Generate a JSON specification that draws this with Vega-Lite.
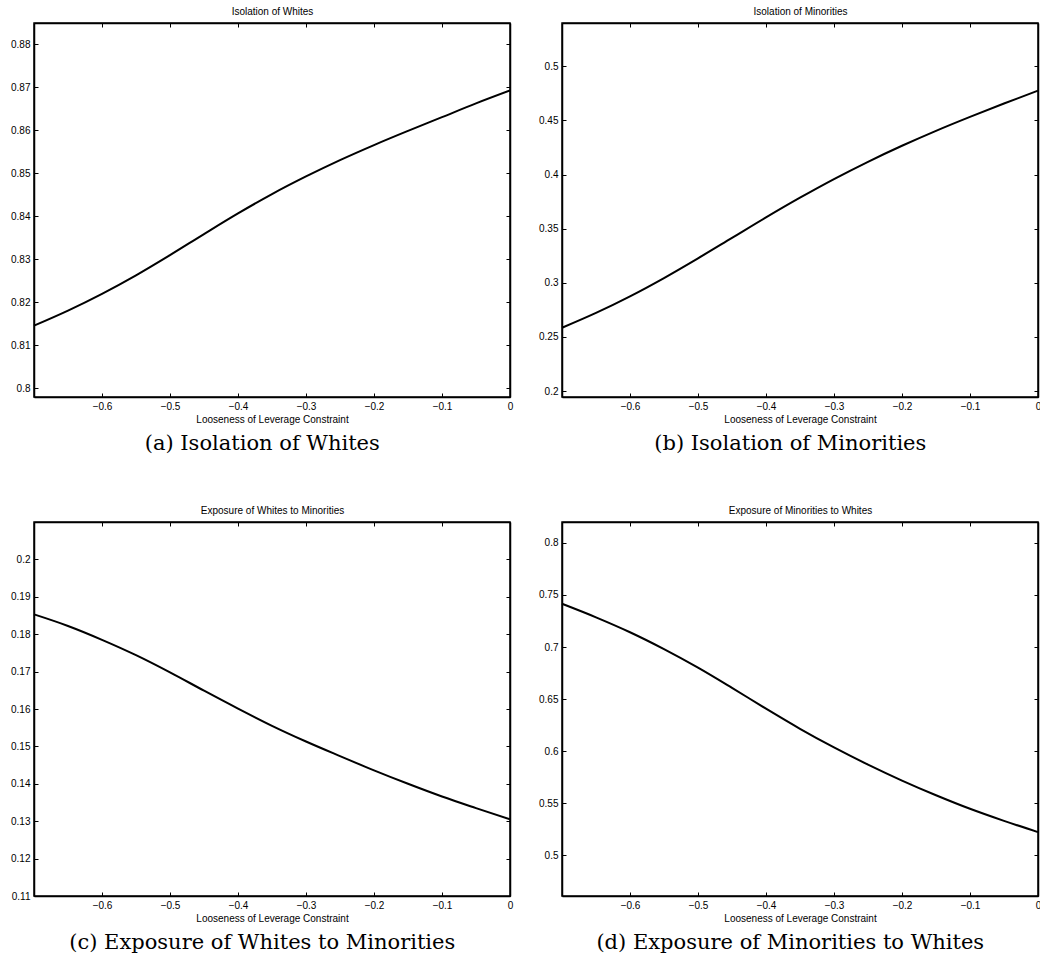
{
  "$schema": "https://vega.github.io/schema/vega-lite/v6.json",
  "padding": {"left": 9, "top": 5, "right": 0, "bottom": 0},
  "background": "white",
  "datasets": {
    "a": [
      {"x": -0.7, "y": 0.8146}, {"x": -0.65, "y": 0.8181}, {"x": -0.6, "y": 0.822}, {"x": -0.55, "y": 0.8263},
      {"x": -0.5, "y": 0.831}, {"x": -0.45, "y": 0.8359}, {"x": -0.4, "y": 0.8407}, {"x": -0.35, "y": 0.8452},
      {"x": -0.3, "y": 0.8493}, {"x": -0.25, "y": 0.8531}, {"x": -0.2, "y": 0.8566}, {"x": -0.15, "y": 0.8599},
      {"x": -0.1, "y": 0.8631}, {"x": -0.05, "y": 0.8663}, {"x": 0, "y": 0.8693}
    ],
    "b": [
      {"x": -0.7, "y": 0.2585}, {"x": -0.65, "y": 0.2722}, {"x": -0.6, "y": 0.2875}, {"x": -0.55, "y": 0.3044},
      {"x": -0.5, "y": 0.3226}, {"x": -0.45, "y": 0.3415}, {"x": -0.4, "y": 0.3604}, {"x": -0.35, "y": 0.3786},
      {"x": -0.3, "y": 0.3958}, {"x": -0.25, "y": 0.4118}, {"x": -0.2, "y": 0.4266}, {"x": -0.15, "y": 0.4404},
      {"x": -0.1, "y": 0.4533}, {"x": -0.05, "y": 0.4656}, {"x": 0, "y": 0.4775}
    ],
    "c": [
      {"x": -0.7, "y": 0.1853}, {"x": -0.65, "y": 0.1822}, {"x": -0.6, "y": 0.1785}, {"x": -0.55, "y": 0.1744},
      {"x": -0.5, "y": 0.1698}, {"x": -0.45, "y": 0.1649}, {"x": -0.4, "y": 0.1601}, {"x": -0.35, "y": 0.1555},
      {"x": -0.3, "y": 0.1513}, {"x": -0.25, "y": 0.1474}, {"x": -0.2, "y": 0.1436}, {"x": -0.15, "y": 0.14},
      {"x": -0.1, "y": 0.1366}, {"x": -0.05, "y": 0.1335}, {"x": 0, "y": 0.1305}
    ],
    "d": [
      {"x": -0.7, "y": 0.7415}, {"x": -0.65, "y": 0.7285}, {"x": -0.6, "y": 0.7142}, {"x": -0.55, "y": 0.698},
      {"x": -0.5, "y": 0.6802}, {"x": -0.45, "y": 0.6608}, {"x": -0.4, "y": 0.6408}, {"x": -0.35, "y": 0.6215},
      {"x": -0.3, "y": 0.6036}, {"x": -0.25, "y": 0.5871}, {"x": -0.2, "y": 0.5718}, {"x": -0.15, "y": 0.5577},
      {"x": -0.1, "y": 0.5447}, {"x": -0.05, "y": 0.5331}, {"x": 0, "y": 0.5223}
    ]
  },
  "vconcat": [
    {
      "hconcat": [
        {
          "width": 476, "height": 374,
          "data": {"name": "a"},
          "title": {"text": "(a) Isolation of Whites", "orient": "bottom", "frame": "bounds", "anchor": "middle", "offset": 9},
          "layer": [
            {
              "mark": {"type": "line", "color": "black", "strokeWidth": 2, "interpolate": "monotone"},
              "encoding": {
                "x": {"field": "x", "type": "quantitative", "scale": {"domain": [-0.7, 0], "nice": false, "zero": false},
                      "axis": {"orient": "bottom", "title": "Looseness of Leverage Constraint", "values": [-0.6, -0.5, -0.4, -0.3, -0.2, -0.1, 0], "format": ".1~f", "titlePadding": 3}},
                "y": {"field": "y", "type": "quantitative", "scale": {"domain": [0.798, 0.885], "nice": false, "zero": false},
                      "axis": {"orient": "left", "title": null, "values": [0.8, 0.81, 0.82, 0.83, 0.84, 0.85, 0.86, 0.87, 0.88], "format": ".2~f"}}
              }
            },
            {
              "mark": {"type": "line", "strokeOpacity": 0},
              "encoding": {
                "x": {"field": "x", "type": "quantitative", "scale": {"domain": [-0.7, 0], "nice": false, "zero": false},
                      "axis": {"orient": "top", "title": "Isolation of Whites", "labels": false, "values": [-0.6, -0.5, -0.4, -0.3, -0.2, -0.1, 0], "titlePadding": 6}},
                "y": {"field": "y", "type": "quantitative", "scale": {"domain": [0.798, 0.885], "nice": false, "zero": false},
                      "axis": {"orient": "right", "title": null, "labels": false, "values": [0.8, 0.81, 0.82, 0.83, 0.84, 0.85, 0.86, 0.87, 0.88]}}
              }
            }
          ],
          "resolve": {"axis": {"x": "independent", "y": "independent"}}
        },
        {
          "width": 476, "height": 374,
          "data": {"name": "b"},
          "title": {"text": "(b) Isolation of Minorities", "orient": "bottom", "frame": "bounds", "anchor": "middle", "offset": 9},
          "layer": [
            {
              "mark": {"type": "line", "color": "black", "strokeWidth": 2, "interpolate": "monotone"},
              "encoding": {
                "x": {"field": "x", "type": "quantitative", "scale": {"domain": [-0.7, 0], "nice": false, "zero": false},
                      "axis": {"orient": "bottom", "title": "Looseness of Leverage Constraint", "values": [-0.6, -0.5, -0.4, -0.3, -0.2, -0.1, 0], "format": ".1~f", "titlePadding": 3}},
                "y": {"field": "y", "type": "quantitative", "scale": {"domain": [0.1945, 0.54], "nice": false, "zero": false},
                      "axis": {"orient": "left", "title": null, "values": [0.2, 0.25, 0.3, 0.35, 0.4, 0.45, 0.5], "format": ".2~f"}}
              }
            },
            {
              "mark": {"type": "line", "strokeOpacity": 0},
              "encoding": {
                "x": {"field": "x", "type": "quantitative", "scale": {"domain": [-0.7, 0], "nice": false, "zero": false},
                      "axis": {"orient": "top", "title": "Isolation of Minorities", "labels": false, "values": [-0.6, -0.5, -0.4, -0.3, -0.2, -0.1, 0], "titlePadding": 6}},
                "y": {"field": "y", "type": "quantitative", "scale": {"domain": [0.1945, 0.54], "nice": false, "zero": false},
                      "axis": {"orient": "right", "title": null, "labels": false, "values": [0.2, 0.25, 0.3, 0.35, 0.4, 0.45, 0.5]}}
              }
            }
          ],
          "resolve": {"axis": {"x": "independent", "y": "independent"}}
        }
      ],
      "spacing": 22
    },
    {
      "hconcat": [
        {
          "width": 476, "height": 374,
          "data": {"name": "c"},
          "title": {"text": "(c) Exposure of Whites to Minorities", "orient": "bottom", "frame": "bounds", "anchor": "middle", "offset": 9},
          "layer": [
            {
              "mark": {"type": "line", "color": "black", "strokeWidth": 2, "interpolate": "monotone"},
              "encoding": {
                "x": {"field": "x", "type": "quantitative", "scale": {"domain": [-0.7, 0], "nice": false, "zero": false},
                      "axis": {"orient": "bottom", "title": "Looseness of Leverage Constraint", "values": [-0.6, -0.5, -0.4, -0.3, -0.2, -0.1, 0], "format": ".1~f", "titlePadding": 3}},
                "y": {"field": "y", "type": "quantitative", "scale": {"domain": [0.11, 0.21], "nice": false, "zero": false},
                      "axis": {"orient": "left", "title": null, "values": [0.11, 0.12, 0.13, 0.14, 0.15, 0.16, 0.17, 0.18, 0.19, 0.2], "format": ".2~f"}}
              }
            },
            {
              "mark": {"type": "line", "strokeOpacity": 0},
              "encoding": {
                "x": {"field": "x", "type": "quantitative", "scale": {"domain": [-0.7, 0], "nice": false, "zero": false},
                      "axis": {"orient": "top", "title": "Exposure of Whites to Minorities", "labels": false, "values": [-0.6, -0.5, -0.4, -0.3, -0.2, -0.1, 0], "titlePadding": 6}},
                "y": {"field": "y", "type": "quantitative", "scale": {"domain": [0.11, 0.21], "nice": false, "zero": false},
                      "axis": {"orient": "right", "title": null, "labels": false, "values": [0.11, 0.12, 0.13, 0.14, 0.15, 0.16, 0.17, 0.18, 0.19, 0.2]}}
              }
            }
          ],
          "resolve": {"axis": {"x": "independent", "y": "independent"}}
        },
        {
          "width": 476, "height": 374,
          "data": {"name": "d"},
          "title": {"text": "(d) Exposure of Minorities to Whites", "orient": "bottom", "frame": "bounds", "anchor": "middle", "offset": 9},
          "layer": [
            {
              "mark": {"type": "line", "color": "black", "strokeWidth": 2, "interpolate": "monotone"},
              "encoding": {
                "x": {"field": "x", "type": "quantitative", "scale": {"domain": [-0.7, 0], "nice": false, "zero": false},
                      "axis": {"orient": "bottom", "title": "Looseness of Leverage Constraint", "values": [-0.6, -0.5, -0.4, -0.3, -0.2, -0.1, 0], "format": ".1~f", "titlePadding": 3}},
                "y": {"field": "y", "type": "quantitative", "scale": {"domain": [0.461, 0.82], "nice": false, "zero": false},
                      "axis": {"orient": "left", "title": null, "values": [0.5, 0.55, 0.6, 0.65, 0.7, 0.75, 0.8], "format": ".2~f"}}
              }
            },
            {
              "mark": {"type": "line", "strokeOpacity": 0},
              "encoding": {
                "x": {"field": "x", "type": "quantitative", "scale": {"domain": [-0.7, 0], "nice": false, "zero": false},
                      "axis": {"orient": "top", "title": "Exposure of Minorities to Whites", "labels": false, "values": [-0.6, -0.5, -0.4, -0.3, -0.2, -0.1, 0], "titlePadding": 6}},
                "y": {"field": "y", "type": "quantitative", "scale": {"domain": [0.461, 0.82], "nice": false, "zero": false},
                      "axis": {"orient": "right", "title": null, "labels": false, "values": [0.5, 0.55, 0.6, 0.65, 0.7, 0.75, 0.8]}}
              }
            }
          ],
          "resolve": {"axis": {"x": "independent", "y": "independent"}}
        }
      ],
      "spacing": 22
    }
  ],
  "spacing": 49,
  "config": {
    "view": {"stroke": "black", "strokeWidth": 1.5},
    "axis": {
      "grid": false,
      "domainColor": "black", "domainWidth": 1.5,
      "tickColor": "black", "tickWidth": 1, "tickSize": -4,
      "labelFont": "Liberation Sans", "labelFontSize": 10, "labelColor": "black", "labelPadding": 8, "labelFlush": false,
      "titleFont": "Liberation Sans", "titleFontSize": 10, "titleFontWeight": "normal", "titleColor": "black"
    },
    "title": {"font": "DejaVu Serif", "fontSize": 21, "fontWeight": "normal", "color": "black"}
  }
}
